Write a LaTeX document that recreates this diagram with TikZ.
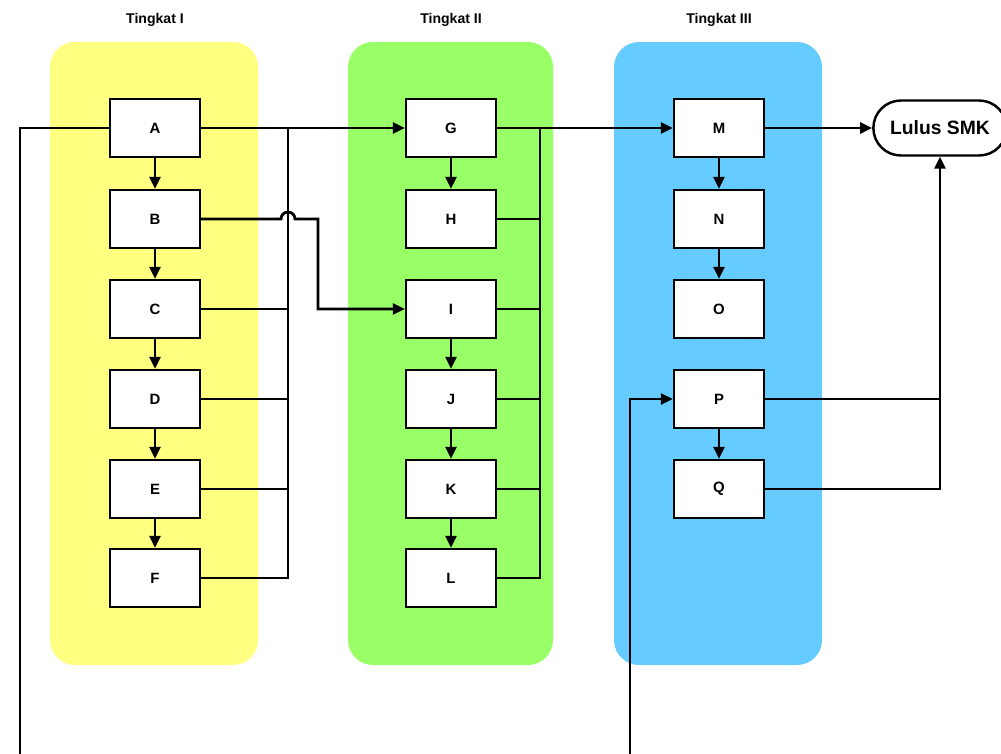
\documentclass[tikz,border=0pt]{standalone}
\usepackage{fontspec}
\setmainfont{Liberation Sans}
\usepackage{tikz}
\usetikzlibrary{arrows.meta,positioning,shapes.misc,calc}
\definecolor{tingkatsatu}{RGB}{255,255,128}
\definecolor{tingkatdua}{RGB}{153,255,102}
\definecolor{tingkattiga}{RGB}{102,204,255}

\begin{document}
\begin{tikzpicture}[
    x=0.02cm, y=-0.02cm,
    panel/.style={rounded corners=0.5cm},
    title/.style={font=\fontsize{8}{9}\selectfont\bfseries},
    subject/.style={rectangle,minimum width=1.8cm,minimum height=1.16cm,draw=black,line width=1.4pt,fill=white,font=\fontsize{8.5}{9}\selectfont\bfseries},
    finish/.style={rounded rectangle,minimum width=2.9cm,minimum height=1.1cm,draw=black,line width=1.4pt,fill=white,font=\fontsize{11}{12}\selectfont\bfseries},
    line/.style={line width=1.6pt},
    arrow/.style={line width=1.6pt,-{Triangle[length=2.4mm,width=2.2mm]}}
]
\useasboundingbox (0,0) rectangle (1001,754);

% Panels
\fill[tingkatsatu,panel] (50,42) rectangle (258,665);
\fill[tingkatdua,panel] (348,42) rectangle (553,665);
\fill[tingkattiga,panel] (614,42) rectangle (822,665);

% Titles
\node[title] (t1) at (155,20) {Tingkat I};
\node[title] (t2) at (451,20) {Tingkat II};
\node[title] (t3) at (719,20) {Tingkat III};

% Tingkat I
\node[subject] (A) at (155,128) {A};
\node[subject] (B) at (155,219) {B};
\node[subject] (C) at (155,309) {C};
\node[subject] (D) at (155,399) {D};
\node[subject] (E) at (155,489) {E};
\node[subject] (F) at (155,578) {F};

% Tingkat II
\node[subject] (G) at (451,128) {G};
\node[subject] (H) at (451,219) {H};
\node[subject] (I) at (451,309) {I};
\node[subject] (J) at (451,399) {J};
\node[subject] (K) at (451,489) {K};
\node[subject] (L) at (451,578) {L};

% Tingkat III
\node[subject] (M) at (719,128) {M};
\node[subject] (N) at (719,219) {N};
\node[subject] (O) at (719,309) {O};
\node[subject] (P) at (719,399) {P};
\node[subject] (Q) at (719,489) {Q};

% End
\node[finish] (lulus) at (940,128) {Lulus SMK};

% Bus lines
\coordinate (busL) at (288,0);
\coordinate (busM) at (540,0);
\coordinate (loopL) at (20,800);
\coordinate (loopR) at (630,800);

% Arrows down
\foreach \a/\b in {A/B,B/C,C/D,D/E,E/F,G/H,I/J,J/K,K/L,M/N,N/O,P/Q}
    \draw[arrow] (\a) -- (\b);

% Tingkat I to Tingkat II
\draw[arrow] (A) -- (G);
\foreach \n in {C,D,E}
    \draw[line] (\n.east) -- (\n.east -| busL);
\draw[line] (F.east) -| (busL |- A.east);
\draw[arrow] (B.east) -- (281,219) arc[start angle=180,end angle=360,radius=7] -- (318,219) |- (I.west);

% Tingkat II to Tingkat III
\draw[arrow] (G) -- (M);
\foreach \n in {H,I,J,K}
    \draw[line] (\n.east) -- (\n.east -| busM);
\draw[line] (L.east) -| (busM |- G.east);

% Tingkat III to Lulus
\draw[arrow] (M) -- (lulus);
\draw[line] (P.east) -- (P.east -| lulus.south);
\draw[arrow] (Q.east) -| (lulus.south);

% Loop from A to P
\draw[arrow] (A.west) -| (loopL) -- (loopR) |- (P.west);
\end{tikzpicture}
\end{document}
